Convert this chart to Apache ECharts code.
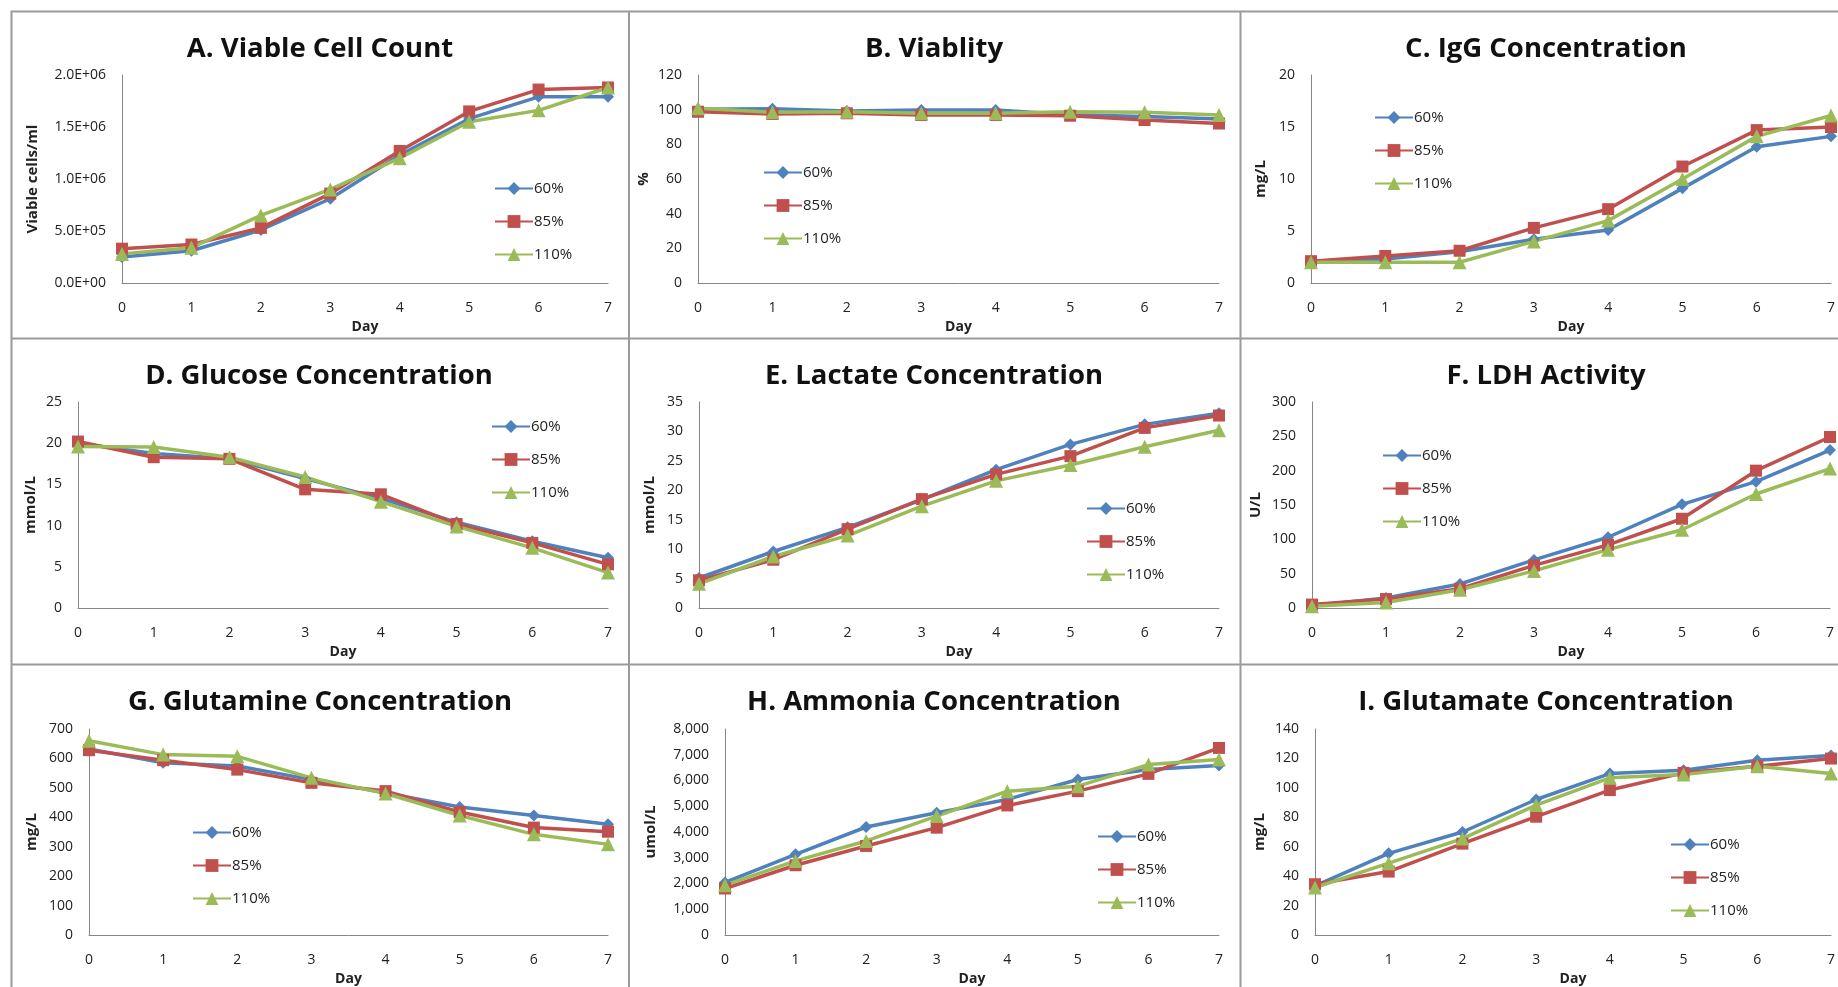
<!DOCTYPE html>
<html>
<head>
<meta charset="utf-8">
<title>Culture parameters</title>
<script src="https://cdn.jsdelivr.net/npm/echarts@6/dist/echarts.min.js"></script>
<style>
  html, body { margin: 0; padding: 0; background: #fff; }
  #chart { width: 1838px; height: 987px; }
</style>
</head>
<body>
<div id="chart"></div>
<script>
const days = ['0', '1', '2', '3', '4', '5', '6', '7']
const groups = ['60%', '85%', '110%']

// A. viable cells/ml
const vcc60 = [250000, 310000, 510000, 810000, 1230000, 1580000, 1790000, 1790000]
const vcc85 = [330000, 370000, 530000, 860000, 1270000, 1650000, 1860000, 1880000]
const vcc110 = [280000, 340000, 650000, 900000, 1200000, 1550000, 1660000, 1880000]
// B. viability %
const via60 = [100.2, 100.6, 99.2, 99.8, 99.8, 97, 96, 94.6]
const via85 = [98.8, 97.5, 97.9, 96.9, 96.9, 96.5, 94, 92]
const via110 = [100.8, 98.5, 98.8, 97.9, 97.9, 98.8, 98.5, 96.9]
// C. IgG mg/L
const igg60 = [2.1, 2.3, 3.0, 4.2, 5.1, 9.1, 13.1, 14.1]
const igg85 = [2.1, 2.6, 3.1, 5.3, 7.1, 11.2, 14.7, 15.0]
const igg110 = [2.0, 2.0, 2.0, 4.0, 6.0, 10.0, 14.1, 16.1]
// D. glucose mmol/L
const glc60 = [20.0, 18.75, 18.1, 15.7, 13.3, 10.4, 8.1, 6.1]
const glc85 = [20.2, 18.3, 18.1, 14.4, 13.8, 10.2, 7.9, 5.3]
const glc110 = [19.6, 19.55, 18.3, 15.9, 12.9, 9.9, 7.3, 4.3]
// E. lactate mmol/L
const lac60 = [5.1, 9.6, 13.7, 18.4, 23.5, 27.8, 31.2, 33.1]
const lac85 = [4.7, 8.2, 13.4, 18.5, 22.7, 25.8, 30.6, 32.7]
const lac110 = [4.1, 8.75, 12.3, 17.3, 21.6, 24.3, 27.4, 30.2]
// F. LDH U/L
const ldh60 = [3.4, 14.5, 35, 70, 103, 151, 184, 230]
const ldh85 = [5, 13, 28, 62, 92, 130, 200, 249]
const ldh110 = [2.4, 8, 26.6, 54, 85, 114, 166, 203]
// G. glutamine mg/L
const gln60 = [632, 585, 574, 528, 483, 435, 406, 376]
const gln85 = [628, 594, 562, 517, 489, 418, 365, 351]
const gln110 = [660, 613, 607, 534, 481, 406, 342, 308]
// H. ammonia umol/L
const amm60 = [2040, 3135, 4194, 4748, 5265, 6039, 6426, 6581]
const amm85 = [1806, 2710, 3458, 4168, 5032, 5587, 6258, 7265]
const amm110 = [1935, 2877, 3652, 4619, 5587, 5781, 6619, 6813]
// I. glutamate mg/L
const glu60 = [33.4, 55.5, 70, 92.1, 109.7, 112, 118.8, 122]
const glu85 = [34.5, 43.1, 62.1, 80.4, 98.5, 110.2, 114.7, 119.9]
const glu110 = [32.3, 48.8, 65.5, 88.3, 106.8, 109, 114.7, 109.7]

const titles = ['A. Viable Cell Count', 'B. Viablity', 'C. IgG Concentration',
  'D. Glucose Concentration', 'E. Lactate Concentration', 'F. LDH Activity',
  'G. Glutamine Concentration', 'H. Ammonia Concentration', 'I. Glutamate Concentration']
const yNames = ['Viable cells/ml', '%', 'mg/L', 'mmol/L', 'mmol/L', 'U/L', 'mg/L', 'umol/L', 'mg/L']
const yMax = [2000000, 120, 20, 25, 35, 300, 700, 8000, 140]
const yStep = [500000, 20, 5, 5, 5, 50, 100, 1000, 20]
const values = [
  [vcc60, vcc85, vcc110], [via60, via85, via110], [igg60, igg85, igg110],
  [glc60, glc85, glc110], [lac60, lac85, lac110], [ldh60, ldh85, ldh110],
  [gln60, gln85, gln110], [amm60, amm85, amm110], [glu60, glu85, glu110]
]

// panel geometry (px)
const layout = [
  { left: 122, top: 75, width: 486, height: 208, tx: 320, ty: 49, gap: 82, lx: 494, ly: 181 },
  { left: 698, top: 75, width: 521, height: 208, tx: 934, ty: 49, gap: 47, lx: 763, ly: 165 },
  { left: 1311, top: 75, width: 522, height: 208, tx: 1546, ty: 49, gap: 43, lx: 1374, ly: 110 },
  { left: 78, top: 402, width: 530, height: 206, tx: 319, ty: 376, gap: 40, lx: 491, ly: 419 },
  { left: 699, top: 402, width: 520, height: 206, tx: 934, ty: 376, gap: 42, lx: 1086, ly: 501 },
  { left: 1312, top: 402, width: 518, height: 206, tx: 1546, ty: 376, gap: 49, lx: 1382, ly: 448 },
  { left: 89, top: 729, width: 519, height: 207, tx: 320, ty: 702, gap: 50, lx: 192, ly: 825 },
  { left: 725, top: 729, width: 494, height: 207, tx: 934, ty: 702, gap: 67, lx: 1097, ly: 829 },
  { left: 1315, top: 729, width: 518, height: 207, tx: 1546, ty: 702, gap: 48, lx: 1670, ly: 837 }
]

const colors = ['#4F81BD', '#C0504D', '#9BBB59']
const symbols = ['diamond', 'rect', 'triangle']
const symbolSizes = [12, 12, 14]
const font = 'Open Sans'

function sci(v) {
  if (v === 0) return '0.0E+00'
  const e = Math.floor(Math.log10(v))
  const m = v / Math.pow(10, e)
  return m.toFixed(1) + 'E+' + String(e).padStart(2, '0')
}

const chart = echarts.init(document.getElementById('chart'))

const grid = [], xAxis = [], yAxis = [], series = [], title = [], legend = []
layout.forEach((p, i) => {
  grid.push({ left: p.left, top: p.top, width: p.width, height: p.height })
  title.push({
    text: titles[i], left: p.tx, top: p.ty, textAlign: 'center', textVerticalAlign: 'middle', padding: 0,
    textStyle: { fontFamily: font, fontSize: 27.5, fontWeight: 'bold', color: '#111' }
  })
  xAxis.push({
    type: 'category', gridIndex: i, data: days, boundaryGap: false,
    name: 'Day', nameLocation: 'middle', nameGap: 37,
    nameTextStyle: { fontFamily: font, fontSize: 14, fontWeight: 'bold', color: '#222' },
    axisLine: { lineStyle: { color: '#868686', width: 1 } },
    axisTick: { show: false },
    axisLabel: { fontFamily: font, fontSize: 14, color: '#222', margin: 18 },
    splitLine: { show: false }
  })
  yAxis.push({
    type: 'value', gridIndex: i, min: 0, max: yMax[i], interval: yStep[i],
    name: yNames[i], nameLocation: 'middle', nameGap: p.gap,
    nameTextStyle: { fontFamily: font, fontSize: 15, fontWeight: 'bold', color: '#222' },
    axisLine: { show: true, lineStyle: { color: '#868686', width: 1 } },
    axisTick: { show: false },
    axisLabel: { fontFamily: font, fontSize: 14, color: '#222', margin: 16, formatter: i === 0 ? sci : null },
    splitLine: { show: false }
  })
  legend.push({
    orient: 'vertical', left: p.lx, top: p.ly, padding: 0, itemGap: 18,
    itemWidth: 38, itemHeight: 16, data: groups, selectedMode: false,
    textStyle: { fontFamily: font, fontSize: 15, color: '#222', padding: [0, 0, 0, -4] }
  })
  groups.forEach((g, k) => {
    series.push({
      type: 'line', name: g, xAxisIndex: i, yAxisIndex: i, data: values[i][k],
      symbol: symbols[k], symbolSize: symbolSizes[k], showSymbol: true,
      lineStyle: { color: colors[k], width: 3.5 },
      itemStyle: { color: colors[k] }
    })
  })
})

const border = { stroke: '#9a9a9a', lineWidth: 2 }
const graphic = [
  { type: 'rect', shape: { x: 11.5, y: 11.5, width: 1900, height: 1000 }, style: { fill: 'none', ...border } },
  { type: 'line', shape: { x1: 629, y1: 11.5, x2: 629, y2: 987 }, style: border },
  { type: 'line', shape: { x1: 1240.5, y1: 11.5, x2: 1240.5, y2: 987 }, style: border },
  { type: 'line', shape: { x1: 11.5, y1: 338.5, x2: 1838, y2: 338.5 }, style: border },
  { type: 'line', shape: { x1: 11.5, y1: 664.5, x2: 1838, y2: 664.5 }, style: border }
]

chart.setOption({
  animation: false,
  backgroundColor: '#fff',
  title, legend, grid, xAxis, yAxis, series, graphic
})
</script>
</body>
</html>
